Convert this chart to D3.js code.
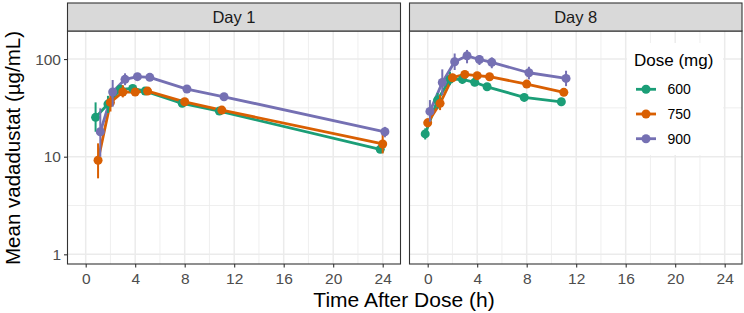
<!DOCTYPE html>
<html><head><meta charset="utf-8">
<script src="https://cdn.jsdelivr.net/npm/d3@7"></script>
<style>body{margin:0;background:#fff}svg{display:block;font-family:"Liberation Sans",Arial,sans-serif}</style>
</head><body><svg id="c" width="744" height="313"></svg>
<script>
const panels = ["Day 1", "Day 8"];
const doses = ["600", "750", "900"];
const colors = ["#1B9E77", "#D95F02", "#7570B3"];
const xTicks = [0, 4, 8, 12, 16, 20, 24];
const yTicks = [1, 10, 100];
const yTickLabels = ["1", "10", "100"];

const times1 = [1, 2, 3, 4, 5, 8, 11, 24];
const times8 = [0, 1, 2, 3, 4, 5, 8, 11];

const day1_600 = [25.3, 34.6, 49, 50, 47, 35.2, 29.3, 11.9];
const day1_600_lo = [18, 28, 45, 46, 44, 33, 27.5, 11.0];
const day1_600_hi = [36, 42, 54, 54, 50, 37.5, 31, 12.9];
const day1_750 = [9.2, 36, 46, 46, 47, 36.5, 30, 13.5];
const day1_750_lo = [6.0, 29, 40.5, 42, 44, 34, 28, 10.8];
const day1_750_hi = [13.7, 44.5, 54, 50, 50, 39, 32, 17.3];
const day1_900 = [18, 46, 62, 66, 65, 49.3, 41.1, 18];
const day1_900_lo = [10, 32.5, 54, 61, 61, 46.5, 39, 15.8];
const day1_900_hi = [31.3, 61, 71.4, 71, 69, 52, 43.3, 20.2];

const day8_600 = [17.1, 38, 62, 62, 57.7, 52, 40.5, 36.5];
const day8_600_lo = [15, 31, 54, 55.5, 52.8, 48, 37, 33];
const day8_600_hi = [19.5, 45, 74, 68.6, 63.4, 56, 44, 40];
const day8_750 = [22.2, 35.2, 64.4, 69.6, 67.6, 65.9, 55.4, 45.6];
const day8_750_lo = [20, 30, 58.8, 65, 63, 62, 51.5, 42];
const day8_750_hi = [24.7, 42.7, 70.5, 74, 72, 70, 59.5, 49.5];
const day8_900 = [29.1, 57.6, 93.9, 108, 99, 92.5, 72.4, 63.4];
const day8_900_lo = [22.8, 42.7, 77.2, 90.5, 86.9, 80.5, 61.9, 52.8];
const day8_900_hi = [38, 78.4, 114, 124, 110, 104, 83.4, 75.9];

const panelData = [
  {times: times1, series: [[day1_600, day1_600_lo, day1_600_hi],[day1_750, day1_750_lo, day1_750_hi],[day1_900, day1_900_lo, day1_900_hi]]},
  {times: times8, series: [[day8_600, day8_600_lo, day8_600_hi],[day8_750, day8_750_lo, day8_750_hi],[day8_900, day8_900_lo, day8_900_hi]]}
];
const dodge = [-0.2, 0, 0.18];

const svg = d3.select("#c");
const pTop = 31, pBottom = 264, stripTop = 3;
const panelX = [[67.5, 400.5], [409.5, 742]];
const y = d3.scaleLog().domain([0.796, 193.8]).range([pBottom, pTop]);
const grid = "#EBEBEB", dark = "#333333", tickCol = "#4D4D4D";
const FF = "Liberation Sans,Arial,sans-serif";

panels.forEach((name, pi) => {
  const [x0, x1] = panelX[pi];
  const x = d3.scaleLinear().domain([-1.47, -1.47 + (x1 - x0) / 12.375]).range([x0, x1]);
  const g = svg.append("g");
  g.append("rect").attr("x", x0).attr("y", pTop).attr("width", x1 - x0).attr("height", pBottom - pTop).attr("fill", "#fff");
  const xMinor = d3.range(2, 25, 4);
  g.selectAll(".xm").data(xMinor).enter().append("line")
    .attr("x1", d => x(d)).attr("x2", d => x(d)).attr("y1", pTop).attr("y2", pBottom)
    .attr("stroke", grid).attr("stroke-width", 0.8);
  const yMinor = [Math.sqrt(10), Math.sqrt(1000)];
  g.selectAll(".ym").data(yMinor).enter().append("line")
    .attr("x1", x0).attr("x2", x1).attr("y1", d => y(d)).attr("y2", d => y(d))
    .attr("stroke", grid).attr("stroke-width", 0.8);
  g.selectAll(".xg").data(xTicks).enter().append("line")
    .attr("x1", d => x(d)).attr("x2", d => x(d)).attr("y1", pTop).attr("y2", pBottom)
    .attr("stroke", grid).attr("stroke-width", 1.5);
  g.selectAll(".yg").data(yTicks).enter().append("line")
    .attr("x1", x0).attr("x2", x1).attr("y1", d => y(d)).attr("y2", d => y(d))
    .attr("stroke", grid).attr("stroke-width", 1.5);

  const pd = panelData[pi];
  const line = d3.line().x(d => x(d.t)).y(d => y(d.v));
  const sets = pd.series.map((s, si) => pd.times.map((t, i) => ({t: t + dodge[si], v: s[0][i], lo: s[1][i], hi: s[2][i]})));
  sets.forEach((pts, si) => {
    g.append("path").datum(pts).attr("d", line).attr("fill", "none")
      .attr("stroke", colors[si]).attr("stroke-width", 2.8).attr("stroke-linejoin", "round");
  });
  sets.forEach((pts, si) => {
    g.selectAll(null).data(pts).enter().append("line")
      .attr("x1", d => x(d.t)).attr("x2", d => x(d.t)).attr("y1", d => y(d.lo)).attr("y2", d => y(d.hi))
      .attr("stroke", colors[si]).attr("stroke-width", 2);
    g.selectAll(null).data(pts).enter().append("circle")
      .attr("cx", d => x(d.t)).attr("cy", d => y(d.v)).attr("r", 4.5).attr("fill", colors[si]);
  });

  g.append("rect").attr("x", x0).attr("y", pTop).attr("width", x1 - x0).attr("height", pBottom - pTop)
    .attr("fill", "none").attr("stroke", dark).attr("stroke-width", 1.1);
  g.append("rect").attr("x", x0).attr("y", stripTop).attr("width", x1 - x0).attr("height", pTop - stripTop)
    .attr("fill", "#D9D9D9").attr("stroke", dark).attr("stroke-width", 1.1);
  g.append("text").attr("x", (x0 + x1) / 2).attr("y", 23).attr("text-anchor", "middle")
    .attr("font-size", 16.5).attr("fill", "#1A1A1A").text(name);

  const xa = g.append("g").attr("transform", `translate(0,${pBottom})`)
    .call(d3.axisBottom(x).tickValues(xTicks).tickSize(3.5).tickPadding(5));
  xa.select(".domain").remove();
  xa.selectAll(".tick line").attr("stroke", dark).attr("stroke-width", 1.1);
  xa.selectAll(".tick text").attr("font-size", 15.5).attr("fill", tickCol).attr("font-family", FF);

  if (pi === 0) {
    const ya = g.append("g").attr("transform", `translate(${x0},0)`)
      .call(d3.axisLeft(y).tickValues(yTicks).tickFormat((d, i) => yTickLabels[i]).tickSize(3.5).tickPadding(3));
    ya.select(".domain").remove();
    ya.selectAll(".tick line").attr("stroke", dark).attr("stroke-width", 1.1);
    ya.selectAll(".tick text").attr("font-size", 15.5).attr("fill", tickCol).attr("font-family", FF);
  }
});

svg.append("text").attr("x", 404).attr("y", 306.5).attr("text-anchor", "middle")
  .attr("font-size", 21).attr("fill", "#000").text("Time After Dose (h)");
svg.append("text").attr("transform", "translate(19.5,148) rotate(-90)").attr("text-anchor", "middle")
  .attr("font-size", 20.5).attr("fill", "#000").text("Mean vadadustat (\u00b5g/mL)");

const lg = svg.append("g");
lg.append("rect").attr("x", 627).attr("y", 43).attr("width", 96).attr("height", 112).attr("fill", "#fff");
lg.append("text").attr("x", 634).attr("y", 65.7).attr("font-size", 17).attr("fill", "#000").text("Dose (mg)");
doses.forEach((d, i) => {
  const yy = 89.3 + i * 24.7;
  lg.append("line").attr("x1", 636).attr("x2", 656).attr("y1", yy).attr("y2", yy)
    .attr("stroke", colors[i]).attr("stroke-width", 2.8);
  lg.append("circle").attr("cx", 646).attr("cy", yy).attr("r", 4.5).attr("fill", colors[i]);
  lg.append("text").attr("x", 667.5).attr("y", yy + 4.8).attr("font-size", 14).attr("fill", "#000").text(d);
});
</script></body></html>
